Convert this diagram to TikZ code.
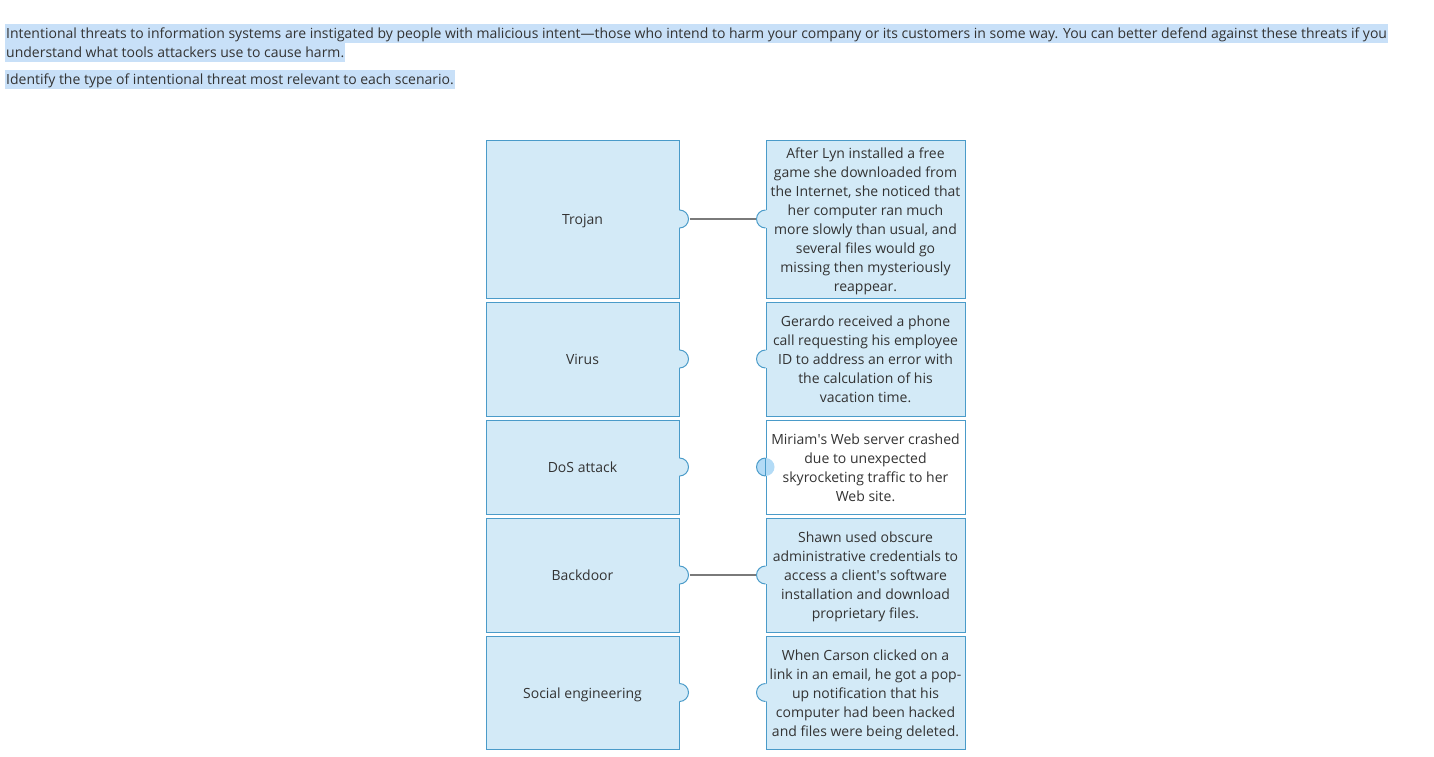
\documentclass[tikz,border=0pt]{standalone}
\usepackage{fontspec}
\setmainfont{Open Sans}
\usetikzlibrary{positioning}
\definecolor{boxfill}{HTML}{D3EAF7}
\definecolor{boxline}{HTML}{4A9BC9}
\definecolor{selfill}{HTML}{C8E0F8}
\definecolor{tabfill}{HTML}{B3DBF6}
\definecolor{txt}{HTML}{333333}
\definecolor{linkgrey}{HTML}{7A7A7A}
\newcommand{\boxfont}{\fontsize{14pt}{19pt}\selectfont}
\newcommand{\linestrut}{\rule[-4pt]{0pt}{19pt}}
\tikzset{
  term/.style={draw=boxline, fill=boxfill, line width=1pt, minimum width=193pt,
    text=txt, font=\boxfont, inner sep=0pt,
    execute at begin node=\linestrut, execute at end node=\linestrut},
  scen/.style={draw=boxline, fill=boxfill, line width=1pt, minimum width=199pt,
    text width=199pt, align=flush center, text=txt, font=\boxfont, inner xsep=0pt, inner ysep=1pt,
    execute at begin node=\linestrut, execute at end node=\linestrut},
  tab/.style={circle, fill=boxfill, inner sep=0pt, outer sep=0pt, minimum size=18pt},
  tabline/.style={draw=boxline, line width=1pt},
  link/.style={draw=linkgrey, line width=2pt, shorten <=1pt, shorten >=1pt},
  sel/.style={fill=selfill, text=txt, inner xsep=1pt, inner ysep=0pt,
    text height=14pt, text depth=5pt, anchor=base west, font=\boxfont},
}
\begin{document}
\begin{tikzpicture}[x=1pt, y=1pt]
  \useasboundingbox (0,0) rectangle (1434,-756);

  % intro text
  \node[sel] (intro1) at (5,-38) {Intentional threats to information systems are instigated by people with malicious intent—those who intend to harm your company or its customers in some way. You can better defend against these threats if you};
  \node[sel] (intro2) at ([yshift=-19pt]intro1.base west) {understand what tools attackers use to cause harm.};
  \node[sel] (intro3) at (5,-84) {Identify the type of intentional threat most relevant to each scenario.};

  % threat types
  \node[term, minimum height=158pt] (trojan) at (582.5,-219) {Trojan};
  \node[term, minimum height=114pt, below=3pt of trojan] (virus) {Virus};
  \node[term, minimum height=94pt, below=3pt of virus] (dos) {DoS attack};
  \node[term, minimum height=114pt, below=3pt of dos] (backdoor) {Backdoor};
  \node[term, minimum height=113pt, below=3pt of backdoor] (social) {Social engineering};

  % scenarios
  \node[scen, minimum height=158pt, right=86pt of trojan] (lyn) {After Lyn installed a free\\game she downloaded from\\the Internet, she noticed that\\her computer ran much\\more slowly than usual, and\\several files would go\\missing then mysteriously\\reappear.};
  \node[scen, minimum height=114pt, right=86pt of virus] (gerardo) {Gerardo received a phone\\call requesting his employee\\ID to address an error with\\the calculation of his\\vacation time.};
  \node[scen, fill=white, minimum height=94pt, right=86pt of dos] (miriam) {Miriam\textquotesingle s Web server crashed\\due to unexpected\\skyrocketing traffic to her\\Web site.};
  \node[scen, minimum height=114pt, right=86pt of backdoor] (shawn) {Shawn used obscure\\administrative credentials to\\access a client\textquotesingle s software\\installation and download\\proprietary files.};
  \node[scen, minimum height=113pt, right=86pt of social] (carson) {When Carson clicked on a\\link in an email, he got a pop-\\up notification that his\\computer had been hacked\\and files were being deleted.};

  % tabs on the threat types
  \foreach \t in {trojan, virus, dos, backdoor, social} {
    \node[tab] (tab\t) at (\t.east) {};
    \draw[tabline] (tab\t.north) arc[start angle=90, end angle=-90, radius=9pt];
  }
  % tabs on the scenarios
  \foreach \s in {lyn, gerardo, shawn, carson} {
    \node[tab] (tab\s) at (\s.west) {};
    \draw[tabline] (tab\s.north) arc[start angle=90, end angle=270, radius=9pt];
  }
  \node[tab, fill=tabfill] (tabmiriam) at (miriam.west) {};
  \draw[tabline] (tabmiriam.north) arc[start angle=90, end angle=270, radius=9pt];
  \draw[tabline] (tabmiriam.north) -- (tabmiriam.south);

  % matches
  \draw[link] (tabtrojan) -- (tablyn);
  \draw[link] (tabbackdoor) -- (tabshawn);
\end{tikzpicture}
\end{document}
